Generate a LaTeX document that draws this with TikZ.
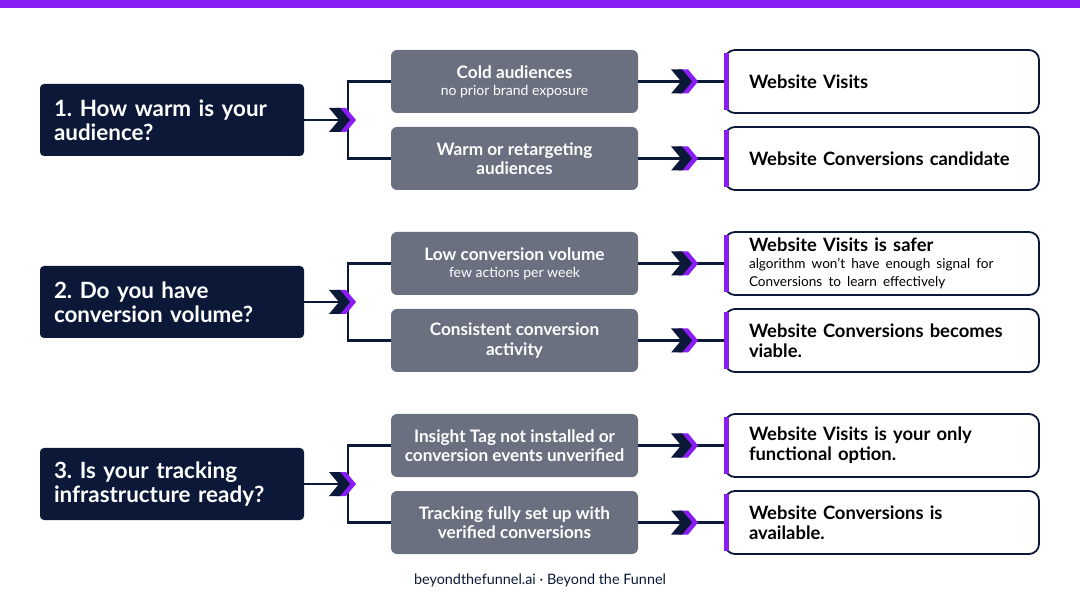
\documentclass[tikz,border=0pt]{standalone}
\usepackage{fontspec}
\setmainfont{Lato}
\usetikzlibrary{positioning,calc}
\definecolor{navy}{HTML}{0B1838}
\definecolor{brand}{HTML}{8A1CF5}
\definecolor{slate}{HTML}{6B7080}
\frenchspacing
\tikzset{
  question/.style={fill=navy, text=white, rounded corners=2pt, minimum width=132pt, minimum height=36pt,
    text width=118pt, align=left, font=\bfseries\fontsize{11.2}{12}\selectfont, inner sep=0pt},
  choice/.style={fill=slate, text=white, rounded corners=3pt, minimum width=123.5pt, minimum height=31.5pt,
    align=center, inner sep=0pt, font=\bfseries\fontsize{8.6}{9.6}\selectfont},
  result/.style={draw=navy, line width=0.9pt, fill=white, rounded corners=5pt, minimum height=31.5pt,
    text width=133pt, align=left, inner xsep=12pt, inner ysep=0pt, font=\bfseries\fontsize{9.2}{10}\selectfont},
  link/.style={navy, line width=1.1pt},
  pics/chev/.style={code={
    \fill[brand] (-6,-12) -- (4,-12) -- (14,0) -- (4,12) -- (-6,12) -- (4,0) -- cycle;
    \fill[navy] (-13,-12) -- (-2,-12) -- (8,0) -- (-2,12) -- (-13,12) -- (-3,0) -- cycle;
  }}
}
\newcommand{\sub}[1]{\\[-1pt]{\normalfont\fontsize{7}{8}\selectfont #1}}
\begin{document}
\begin{tikzpicture}[x=0.5pt, y=-0.5pt]
  \useasboundingbox (0,0) rectangle (1080,603);
  \fill[brand] (0,0) rectangle (1080,8);

  % section 1
  \node[question] (q1) at (172,120) {1. How warm is your\\audience?};
  \node[choice] (c11) at (514.5,81.5) {Cold audiences\sub{no prior brand exposure}};
  \node[choice] (c12) at (514.5,158.5) {Warm or retargeting\\audiences};
  \node[result] (r11) at (882,81.5) {Website Visits};
  \node[result] (r12) at (882,158.5) {Website Conversions candidate};

  % section 2
  \node[question] (q2) at (172,302) {2. Do you have\\conversion volume?};
  \node[choice] (c21) at (514.5,263.5) {Low conversion volume\sub{few actions per week}};
  \node[choice] (c22) at (514.5,340.5) {Consistent conversion\\activity};
  \node[result] (r21) at (882,263.5) {Website Visits is safer\\[-1.5pt]{\normalfont\fontsize{6.8}{7.4}\selectfont algorithm won't have enough signal for}\\[-1pt]{\normalfont\fontsize{6.8}{7.4}\selectfont Conversions to learn effectively}};
  \node[result] (r22) at (882,340.5) {Website Conversions becomes\\viable.};

  % section 3
  \node[question] (q3) at (172,484) {3. Is your tracking\\infrastructure ready?};
  \node[choice] (c31) at (514.5,445.5) {Insight Tag not installed or\\conversion events unverified};
  \node[choice] (c32) at (514.5,522.5) {Tracking fully set up with\\verified conversions};
  \node[result] (r31) at (882,445.5) {Website Visits is your only\\functional option.};
  \node[result] (r32) at (882,522.5) {Website Conversions is\\available.};

  \foreach \s/\y in {1/120, 2/302, 3/484} {
    \coordinate (b\s) at (348,\y);
    \draw[link] (q\s.east) -- (b\s);
    \draw[link] (c\s1.west) -| (b\s) |- (c\s2.west);
    \pic at ([xshift=-3pt]b\s) {chev};
    \foreach \k in {1,2} {
      \draw[link] (c\s\k.east) -- (r\s\k.west);
      \draw[brand, line width=2.6pt] ([xshift=1.3pt, yshift=-2pt]r\s\k.north west) -- ([xshift=1.3pt, yshift=2pt]r\s\k.south west);
      \pic at ([xshift=-20pt]r\s\k.west) {chev};
    }
  }

  \node[font=\fontsize{7.2}{8}\selectfont, text=navy] (foot) at (540,580) {beyondthefunnel.ai · Beyond the Funnel};
\end{tikzpicture}
\end{document}
